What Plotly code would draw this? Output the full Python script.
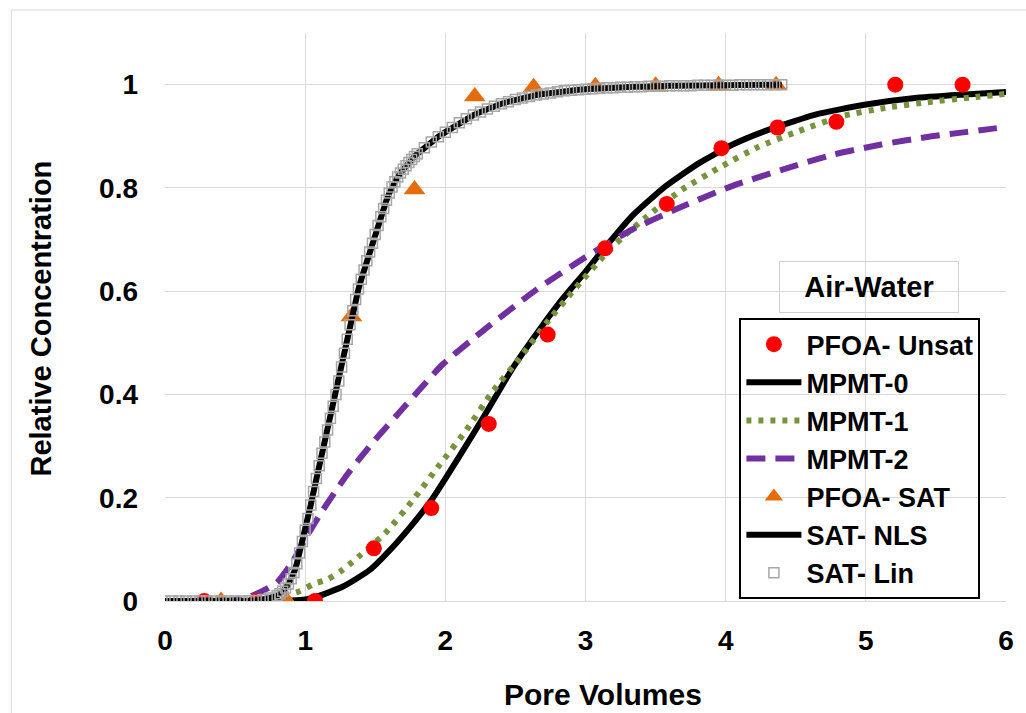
import plotly.graph_objects as go

# ---------------- data ----------------
unsat_pv = [0.28, 0.65, 1.07, 1.49, 1.90, 2.31, 2.73, 3.14, 3.58, 3.97, 4.37, 4.79, 5.21, 5.69]
unsat_c = [0.0, 0.0, 0.0, 0.102, 0.180, 0.343, 0.516, 0.683, 0.769, 0.877, 0.917, 0.928, 1.0, 1.0]

sat_obs_pv = [0.40, 0.87, 1.33, 1.78, 2.21, 2.63, 3.07, 3.50, 3.95, 4.36]
sat_obs_c = [0.0, 0.0, 0.551, 0.797, 0.977, 0.995, 0.997, 0.998, 0.999, 0.999]

mpmt0_pv = [0.0, 0.5, 0.8, 0.9, 1.0, 1.08, 1.27, 1.46, 1.65, 1.80, 1.91, 2.10, 2.29, 2.48,
            2.67, 2.83, 3.00, 3.14, 3.33, 3.57, 3.81, 4.05, 4.28, 4.64, 4.99, 5.35, 5.71, 6.0]
mpmt0_c = [0.0, 0.0, 0.0, 0.001, 0.003, 0.008, 0.028, 0.060, 0.112, 0.160, 0.199, 0.280, 0.364, 0.451,
           0.525, 0.583, 0.638, 0.685, 0.745, 0.803, 0.848, 0.884, 0.910, 0.942, 0.961, 0.974, 0.981, 0.986]

mpmt1_pv = [0.0, 0.6, 0.75, 0.87, 0.96, 1.06, 1.16, 1.25, 1.33, 1.57, 1.77, 1.96, 2.15, 2.33,
            2.53, 2.72, 2.92, 3.13, 3.27, 3.44, 3.69, 3.96, 4.23, 4.52, 4.83, 5.14, 5.44, 5.75, 6.0]
mpmt1_c = [0.0, 0.0, 0.003, 0.012, 0.019, 0.033, 0.042, 0.057, 0.074, 0.131, 0.196, 0.264, 0.331, 0.403,
           0.470, 0.538, 0.603, 0.668, 0.706, 0.745, 0.797, 0.840, 0.879, 0.910, 0.939, 0.955, 0.966, 0.975, 0.982]

mpmt2_pv = [0.0, 0.4, 0.5, 0.6, 0.7, 0.8, 0.91, 1.0, 1.1, 1.2, 1.3, 1.47, 1.72, 1.98, 2.29, 2.65,
            3.0, 3.33, 3.69, 4.04, 4.40, 4.76, 5.11, 5.47, 5.71, 6.0]
mpmt2_c = [0.0, 0.0, 0.002, 0.008, 0.020, 0.036, 0.076, 0.120, 0.165, 0.206, 0.245, 0.303, 0.380, 0.458,
           0.528, 0.603, 0.666, 0.719, 0.764, 0.803, 0.835, 0.864, 0.884, 0.900, 0.908, 0.918]

sat_pv = [0.00, 0.05, 0.10, 0.15, 0.20, 0.25, 0.30, 0.35, 0.40, 0.45, 0.50, 0.55, 0.60, 0.65, 0.70, 0.75, 0.80,
          0.82, 0.84, 0.86, 0.88, 0.90, 0.92, 0.94, 0.96, 0.98, 1.00, 1.02, 1.04, 1.06, 1.08, 1.10,
          1.12, 1.14, 1.16, 1.18, 1.20, 1.22, 1.24, 1.26, 1.28, 1.30, 1.32, 1.34, 1.36, 1.38, 1.40,
          1.42, 1.44, 1.46, 1.48, 1.50, 1.52, 1.54, 1.56, 1.58, 1.60, 1.62, 1.64, 1.66, 1.68, 1.70,
          1.72, 1.74, 1.76, 1.78, 1.80, 1.85, 1.90, 1.95, 2.00, 2.05, 2.10, 2.15, 2.20, 2.25, 2.30,
          2.35, 2.40, 2.45, 2.50, 2.55, 2.60, 2.65, 2.70, 2.75, 2.80, 2.85, 2.90, 2.95, 3.00, 3.05,
          3.10, 3.15, 3.20, 3.25, 3.30, 3.35, 3.40, 3.45, 3.50, 3.55, 3.60, 3.65, 3.70, 3.75, 3.80,
          3.85, 3.90, 3.95, 4.00, 4.05, 4.10, 4.15, 4.20, 4.25, 4.30, 4.35, 4.40]
sat_c = [0.0, 0.0, 0.0, 0.0, 0.0, 0.0, 0.0, 0.0, 0.0, 0.0, 0.0, 0.0, 0.0005, 0.001, 0.003, 0.006, 0.010,
         0.014, 0.019, 0.025, 0.033, 0.043, 0.055, 0.072, 0.093, 0.115, 0.137, 0.160, 0.186, 0.212, 0.237, 0.262,
         0.286, 0.308, 0.331, 0.354, 0.377, 0.400, 0.426, 0.453, 0.480, 0.507, 0.535, 0.562, 0.584, 0.604, 0.623,
         0.641, 0.659, 0.676, 0.693, 0.710, 0.727, 0.744, 0.760, 0.776, 0.790, 0.802, 0.812, 0.821, 0.829, 0.836,
         0.843, 0.849, 0.855, 0.861, 0.866, 0.878, 0.889, 0.899, 0.908, 0.917, 0.926, 0.934, 0.941, 0.947, 0.953,
         0.958, 0.963, 0.967, 0.971, 0.974, 0.977, 0.980, 0.982, 0.984, 0.986, 0.988, 0.989, 0.990, 0.991, 0.992,
         0.993, 0.994, 0.994, 0.995, 0.995, 0.996, 0.996, 0.997, 0.997, 0.997, 0.998, 0.998, 0.998, 0.998, 0.999,
         0.999, 0.999, 0.999, 0.999, 0.999, 1.0, 1.0, 1.0, 1.0, 1.0, 1.0, 1.0]

x_ticks = [0, 1, 2, 3, 4, 5, 6]
y_ticks = [0, 0.2, 0.4, 0.6, 0.8, 1.0]
y_tick_text = ["0", "0.2", "0.4", "0.6", "0.8", "1"]

FONT = "Liberation Sans, Arial, sans-serif"

fig = go.Figure()

fig.add_trace(go.Scatter(x=mpmt0_pv, y=mpmt0_c, mode="lines", name="MPMT-0", legendrank=2,
                         line=dict(color="#000000", width=6, shape="spline", smoothing=0.5)))
fig.add_trace(go.Scatter(x=mpmt1_pv, y=mpmt1_c, mode="lines", name="MPMT-1", legendrank=3,
                         line=dict(color="#77933C", width=6, dash="5px,7px", shape="spline", smoothing=0.5)))
fig.add_trace(go.Scatter(x=mpmt2_pv, y=mpmt2_c, mode="lines", name="MPMT-2", legendrank=4,
                         line=dict(color="#7030A0", width=6, dash="19px,10px", shape="spline", smoothing=0.5)))
fig.add_trace(go.Scatter(x=unsat_pv, y=unsat_c, mode="markers", name="PFOA- Unsat", legendrank=1,
                         marker=dict(color="#FF0000", size=16, symbol="circle")))
fig.add_trace(go.Scatter(x=sat_obs_pv, y=sat_obs_c, mode="markers", name="PFOA- SAT", legendrank=5,
                         marker=dict(color="#E46C0A", size=19, symbol="triangle-up")))
fig.add_trace(go.Scatter(x=sat_pv, y=sat_c, mode="lines", name="SAT- NLS", legendrank=6,
                         line=dict(color="#000000", width=6)))
fig.add_trace(go.Scatter(x=sat_pv, y=sat_c, mode="markers", name="SAT- Lin", legendrank=7,
                         marker=dict(symbol="square-open", size=10, color="#A6A6A6",
                                     line=dict(width=1.5, color="#A6A6A6"))))

fig.update_layout(
    width=1026, height=713,
    margin=dict(l=165, r=18, t=33, b=112),
    paper_bgcolor="white", plot_bgcolor="white",
    font=dict(family=FONT, color="black"),
    showlegend=True,
    legend=dict(
        x=0.683, y=0.498, xanchor="left", yanchor="top",
        bgcolor="rgba(0,0,0,0)", bordercolor="black", borderwidth=2,
        font=dict(family=FONT, size=27, color="black", weight="bold"),
        itemwidth=55, tracegroupgap=0,
    ),
    xaxis=dict(range=[0, 6], tickvals=x_ticks, showgrid=True, gridcolor="#D9D9D9", gridwidth=1,
               zeroline=False, showline=False, ticks="",
               tickfont=dict(family=FONT, size=28, color="black", weight="bold"),
               ticklabelstandoff=20),
    yaxis=dict(range=[0, 1.1], tickvals=y_ticks, ticktext=y_tick_text, showgrid=True,
               gridcolor="#D9D9D9", gridwidth=1, zeroline=True, zerolinecolor="#D9D9D9",
               zerolinewidth=1, showline=False, ticks="",
               tickfont=dict(family=FONT, size=28, color="black", weight="bold"),
               ticklabelstandoff=26),
    shapes=[dict(type="rect", xref="paper", yref="paper", x0=-0.1827, x1=1.03, y0=-0.215, y1=1.0405,
                 line=dict(color="#D9D9D9", width=1), fillcolor="rgba(0,0,0,0)", layer="below")],
    annotations=[
        dict(text="Pore Volumes", xref="paper", yref="paper", x=0.521, y=-0.164,
             xanchor="center", yanchor="middle", showarrow=False,
             font=dict(family=FONT, size=30, color="black", weight="bold")),
        dict(text="Relative Concentration", xref="paper", yref="paper", x=-0.147, y=0.498,
             xanchor="center", yanchor="middle", showarrow=False, textangle=-90,
             font=dict(family=FONT, size=29, color="black", weight="bold")),
        dict(text="Air-Water", xref="paper", yref="paper", x=0.8369, y=0.5528,
             xanchor="center", yanchor="middle", showarrow=False,
             width=172, height=44, bordercolor="#D0D0D0", borderwidth=1, borderpad=3,
             bgcolor="rgba(0,0,0,0)",
             font=dict(family=FONT, size=29, color="black", weight="bold")),
    ],
)

fig.write_html("out.html", config={"displayModeBar": False},
               post_script="document.body.style.margin='0px';document.body.style.overflow='hidden';")
